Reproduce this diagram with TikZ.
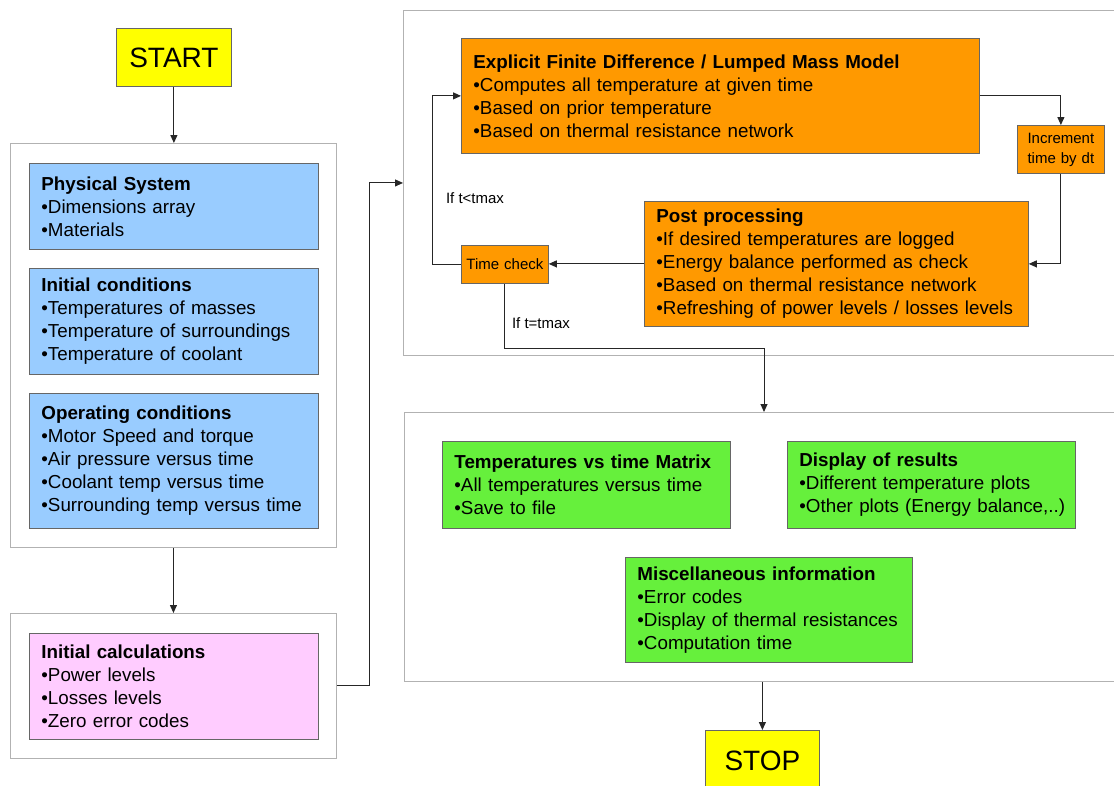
\documentclass[tikz,border=0pt]{standalone}
\usepackage{fontspec}
\setmainfont{Liberation Sans}
\usetikzlibrary{arrows.meta}
\definecolor{boxblue}{RGB}{153,204,255}
\definecolor{boxpink}{RGB}{255,204,255}
\definecolor{boxorange}{RGB}{255,153,0}
\definecolor{boxgreen}{RGB}{102,240,60}
\definecolor{boxyellow}{RGB}{255,255,0}
\newcommand\li[1]{\mbox{#1}}
\begin{document}
\begin{tikzpicture}[x=1pt,y=-1pt,
  box/.style={draw=black!60, line width=0.8pt, anchor=north west, inner xsep=12pt, inner ysep=0pt, align=left, font=\fontsize{18.8}{23}\selectfont},
  small/.style={draw=black!60, line width=0.8pt, anchor=north west, inner sep=0pt, align=center, font=\fontsize{15}{20}\selectfont, fill=boxorange},
  cont/.style={draw=black!30, line width=0.9pt, anchor=north west, inner sep=0pt},
  term/.style={draw=black!60, line width=0.8pt, anchor=north west, inner sep=0pt, fill=boxyellow, font=\fontsize{28}{30}\selectfont},
  arr/.style={draw=black!85, line width=1pt, -{Triangle[length=8pt,width=7pt]}},
  lbl/.style={font=\fontsize{15}{18}\selectfont, inner sep=0pt}
]
\useasboundingbox (0,0) rectangle (1114,785);
\fill[white] (0,0) rectangle (1114,785);

% containers
\node[cont, minimum width=326pt, minimum height=404pt] (cont1) at (10,143) {};
\node[cont, minimum width=326pt, minimum height=145pt] (cont2) at (10,613) {};
\node[cont, minimum width=715pt, minimum height=345pt] (cont3) at (403,10) {};
\node[cont, minimum width=714pt, minimum height=269pt] (cont4) at (404,412) {};

% terminals
\node[term, minimum width=115pt, minimum height=58pt] (start) at (116,28) {START};
\node[term, minimum width=114pt, minimum height=60pt] (stop) at (705,730) {STOP};

% left column
\node[box, fill=boxblue, text width=265pt, minimum height=86pt] (phys) at (29,163)
  {\li{\textbf{Physical System}}\\\li{•Dimensions array}\\\li{•Materials}};
\node[box, fill=boxblue, text width=265pt, minimum height=106pt] (initc) at (29,268)
  {\li{\textbf{Initial conditions}}\\\li{•Temperatures of masses}\\\li{•Temperature of surroundings}\\\li{•Temperature of coolant}};
\node[box, fill=boxblue, text width=265pt, minimum height=135pt] (oper) at (29,393)
  {\li{\textbf{Operating conditions}}\\\li{•Motor Speed and torque}\\\li{•Air pressure versus time}\\\li{•Coolant temp versus time}\\\li{•Surrounding temp versus time}};
\node[box, fill=boxpink, text width=265pt, minimum height=106pt] (calc) at (29,633)
  {\li{\textbf{Initial calculations}}\\\li{•Power levels}\\\li{•Losses levels}\\\li{•Zero error codes}};

% loop
\node[box, fill=boxorange, text width=494pt, minimum height=115pt] (expl) at (461,38)
  {\li{\textbf{Explicit Finite Difference / Lumped Mass Model}}\\\li{•Computes all temperature at given time}\\\li{•Based on prior temperature}\\\li{•Based on thermal resistance network}};
\node[small, text width=87pt, minimum height=48pt] (incr) at (1017,125) {Increment\\time by dt};
\node[box, fill=boxorange, text width=360pt, minimum height=125pt] (post) at (644,201)
  {\li{\textbf{Post processing}}\\\li{•If desired temperatures are logged}\\\li{•Energy balance performed as check}\\\li{•Based on thermal resistance network}\\\li{•Refreshing of power levels / losses levels}};
\node[small, text width=87pt, minimum height=38pt] (timec) at (461,245) {Time check};

% results
\node[box, fill=boxgreen, text width=264pt, minimum height=87pt] (tmat) at (442,441)
  {\li{\textbf{Temperatures vs time Matrix}}\\\li{•All temperatures versus time}\\\li{•Save to file}};
\node[box, fill=boxgreen, text width=264pt, minimum height=87pt] (disp) at (787,441)
  {\li{\textbf{Display of results}}\\\li{•Different temperature plots}\\\li{•Other plots (Energy balance,..)}};
\node[box, fill=boxgreen, text width=263pt, minimum height=105pt] (misc) at (625,557)
  {\li{\textbf{Miscellaneous information}}\\\li{•Error codes}\\\li{•Display of thermal resistances}\\\li{•Computation time}};

% labels
\node[lbl] (lless) at (475,198) {If t<tmax};
\node[lbl] (leq) at (541,323) {If t=tmax};

% connectors
\draw[arr] (start.south) -- (start.south |- cont1.north);
\draw[arr] (cont1.south) -- (cont1.south |- cont2.north);
\draw[arr] (cont2.east) -- ++(33,0) |- (cont3.west);
\draw[arr] (expl.east) -| (incr.north);
\draw[arr] (incr.south) |- (post.east);
\draw[arr] (post.west) -- (post.west -| timec.east);
\draw[arr] (timec.west) -- ++(-29,0) |- (expl.west);
\coordinate (bend) at (764,348);
\draw[arr] (timec.south) |- (bend) -- (bend |- cont4.north);
\draw[arr] (stop.north |- cont4.south) -- (stop.north);
\end{tikzpicture}
\end{document}
